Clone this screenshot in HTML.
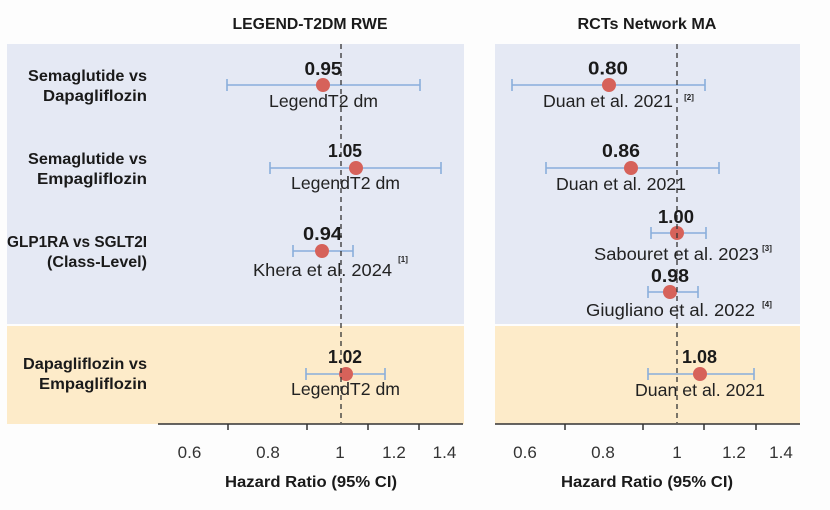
<!DOCTYPE html>
<html><head><meta charset="utf-8"><style>
html,body{margin:0;padding:0;background:#fdfdfd;}
svg{display:block;}
text{font-family:"Liberation Sans",sans-serif;}
.rl{font-weight:bold;font-size:16px;fill:#1a1a1a;text-anchor:end;}
.v{font-weight:bold;font-size:18px;fill:#1a1a1a;text-anchor:middle;}
.s{font-size:17.5px;fill:#222;text-anchor:middle;}
.sup{font-weight:bold;font-size:8px;fill:#222;text-anchor:middle;}
.tk{font-size:17px;fill:#333;text-anchor:middle;}
.ti{font-weight:bold;font-size:16px;fill:#1a1a1a;text-anchor:middle;}
.ci{stroke:#8aaedb;stroke-width:1.6;fill:none;}
.pt{fill:#d6625a;}
.dash{stroke:#333;stroke-width:1.3;stroke-dasharray:5,4;}
.ax{stroke:#333;stroke-width:1.5;}
</style></head><body>
<svg width="830" height="510" viewBox="0 0 830 510" xmlns="http://www.w3.org/2000/svg">
<rect x="0" y="0" width="830" height="510" fill="#fdfdfd"/>
<!-- backgrounds -->
<rect x="7" y="44" width="457" height="280" fill="#e5e9f4"/>
<rect x="7" y="326" width="457" height="98" fill="#fdebc9"/>
<rect x="495" y="44" width="305" height="280" fill="#e5e9f4"/>
<rect x="495" y="326" width="305" height="98" fill="#fdebc9"/>

<!-- titles -->
<text class="ti" x="310" y="29" textLength="155" lengthAdjust="spacingAndGlyphs">LEGEND-T2DM RWE</text>
<text class="ti" x="647" y="29" textLength="139" lengthAdjust="spacingAndGlyphs">RCTs Network MA</text>

<!-- row labels -->
<text class="rl" x="147" y="81" textLength="119" lengthAdjust="spacingAndGlyphs">Semaglutide vs</text>
<text class="rl" x="147" y="101" textLength="104" lengthAdjust="spacingAndGlyphs">Dapagliflozin</text>
<text class="rl" x="147" y="164" textLength="119" lengthAdjust="spacingAndGlyphs">Semaglutide vs</text>
<text class="rl" x="147" y="184" textLength="110" lengthAdjust="spacingAndGlyphs">Empagliflozin</text>
<text class="rl" x="147" y="247" textLength="140" lengthAdjust="spacingAndGlyphs">GLP1RA vs SGLT2I</text>
<text class="rl" x="147" y="267" textLength="100" lengthAdjust="spacingAndGlyphs">(Class-Level)</text>
<text class="rl" x="147" y="369" textLength="124" lengthAdjust="spacingAndGlyphs">Dapagliflozin vs</text>
<text class="rl" x="147" y="389" textLength="108" lengthAdjust="spacingAndGlyphs">Empagliflozin</text>

<!-- LEFT PANEL data -->
<g>
<path class="ci" d="M227 85H420M227 79V91M420 79V91"/>
<circle class="pt" cx="323" cy="85" r="7"/>
<text class="v" x="323" y="75" textLength="37" lengthAdjust="spacingAndGlyphs">0.95</text>
<text class="s" x="323.5" y="107" textLength="109" lengthAdjust="spacingAndGlyphs">LegendT2 dm</text>

<path class="ci" d="M270 168H441M270 162V174M441 162V174"/>
<circle class="pt" cx="356" cy="168" r="7"/>
<text class="v" x="345" y="157" textLength="34" lengthAdjust="spacingAndGlyphs">1.05</text>
<text class="s" x="345.5" y="189" textLength="109" lengthAdjust="spacingAndGlyphs">LegendT2 dm</text>

<path class="ci" d="M293 251H353M293 245V257M353 245V257"/>
<circle class="pt" cx="322" cy="251" r="7"/>
<text class="v" x="322.5" y="240" textLength="39" lengthAdjust="spacingAndGlyphs">0.94</text>
<text class="s" x="322.5" y="276" textLength="139" lengthAdjust="spacingAndGlyphs">Khera et al. 2024</text>
<text class="sup" x="403" y="262">[1]</text>

<path class="ci" d="M306 374H385M306 368V380M385 368V380"/>
<circle class="pt" cx="346" cy="374" r="7"/>
<text class="v" x="345" y="363" textLength="34" lengthAdjust="spacingAndGlyphs">1.02</text>
<text class="s" x="345.5" y="395" textLength="109" lengthAdjust="spacingAndGlyphs">LegendT2 dm</text>
</g>

<!-- RIGHT PANEL data -->
<g>
<path class="ci" d="M512 85H705M512 79V91M705 79V91"/>
<circle class="pt" cx="609" cy="85" r="7"/>
<text class="v" x="608" y="74.5" textLength="40" lengthAdjust="spacingAndGlyphs">0.80</text>
<text class="s" x="608" y="107" textLength="130" lengthAdjust="spacingAndGlyphs">Duan et al. 2021</text>
<text class="sup" x="689" y="100">[2]</text>

<path class="ci" d="M546 168H719M546 162V174M719 162V174"/>
<circle class="pt" cx="631" cy="168" r="7"/>
<text class="v" x="621" y="157" textLength="38" lengthAdjust="spacingAndGlyphs">0.86</text>
<text class="s" x="621" y="190" textLength="130" lengthAdjust="spacingAndGlyphs">Duan et al. 2021</text>

<path class="ci" d="M651 233H706M651 227V239M706 227V239"/>
<circle class="pt" cx="677" cy="233" r="7"/>
<text class="v" x="676" y="223" textLength="36" lengthAdjust="spacingAndGlyphs">1.00</text>
<text class="s" x="676.5" y="260" textLength="165" lengthAdjust="spacingAndGlyphs">Sabouret et al. 2023</text>
<text class="sup" x="767" y="251">[3]</text>

<path class="ci" d="M648 292H698M648 286V298M698 286V298"/>
<circle class="pt" cx="670" cy="292" r="7"/>
<text class="v" x="670" y="282" textLength="38" lengthAdjust="spacingAndGlyphs">0.98</text>
<text class="s" x="670.5" y="316" textLength="169" lengthAdjust="spacingAndGlyphs">Giugliano et al. 2022</text>
<text class="sup" x="767" y="307">[4]</text>

<path class="ci" d="M648 374H754M648 368V380M754 368V380"/>
<circle class="pt" cx="700" cy="374" r="7"/>
<text class="v" x="699.5" y="363" textLength="35" lengthAdjust="spacingAndGlyphs">1.08</text>
<text class="s" x="700" y="396" textLength="130" lengthAdjust="spacingAndGlyphs">Duan et al. 2021</text>
</g>

<!-- dashed reference lines -->
<line class="dash" x1="341" y1="44" x2="341" y2="423"/>
<line class="dash" x1="677" y1="44" x2="677" y2="423"/>

<!-- axes -->
<line class="ax" x1="158" y1="424" x2="463" y2="424"/>
<path class="ax" d="M228 424V430M307 424V430M368 424V430M419 424V430"/>
<line class="ax" x1="495" y1="424" x2="800" y2="424"/>
<path class="ax" d="M565 424V430M643 424V430M704 424V430M756 424V430"/>

<text class="tk" x="189.5" y="458">0.6</text>
<text class="tk" x="268" y="458">0.8</text>
<text class="tk" x="340" y="458">1</text>
<text class="tk" x="394" y="458">1.2</text>
<text class="tk" x="444.5" y="458">1.4</text>

<text class="tk" x="525" y="458">0.6</text>
<text class="tk" x="603" y="458">0.8</text>
<text class="tk" x="677" y="458">1</text>
<text class="tk" x="734" y="458">1.2</text>
<text class="tk" x="781" y="458">1.4</text>

<text class="ti" x="311" y="487" textLength="172" lengthAdjust="spacingAndGlyphs">Hazard Ratio (95% CI)</text>
<text class="ti" x="647" y="487" textLength="172" lengthAdjust="spacingAndGlyphs">Hazard Ratio (95% CI)</text>
</svg>
</body></html>
